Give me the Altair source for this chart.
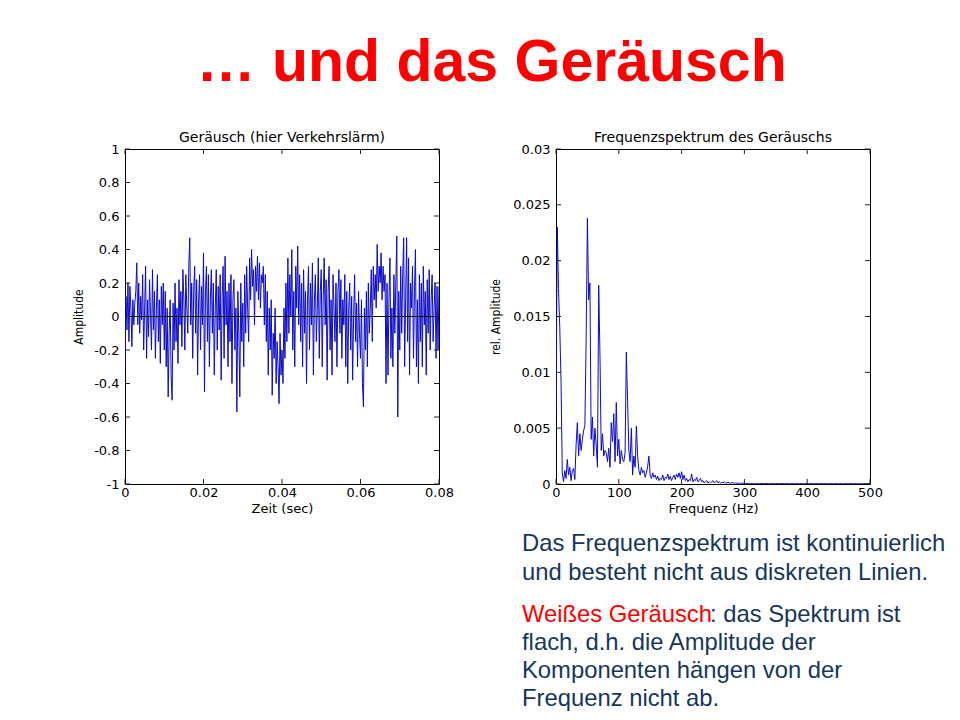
import altair as alt
import pandas as pd

# ---------------- texts ----------------
MAIN_TITLE = "… und das Geräusch"
LEFT_TITLE = "Geräusch (hier Verkehrslärm)"
RIGHT_TITLE = "Frequenzspektrum des Geräuschs"
LEFT_X_TITLE = "Zeit (sec)"
LEFT_Y_TITLE = "Amplitude"
RIGHT_X_TITLE = "Frequenz (Hz)"
RIGHT_Y_TITLE = "rel. Amplitude"
PARA1 = ["Das Frequenzspektrum ist kontinuierlich",
         "und besteht nicht aus diskreten Linien."]
PARA2_RED = "Weißes Geräusch"
PARA2_FIRST = ": das Spektrum ist"
PARA2_REST = ["flach, d.h. die Amplitude der",
              "Komponenten hängen von der",
              "Frequenz nicht ab."]

# ---------------- data ----------------
SAMPLE_STEP = 0.00025  # s
signal = [
    -0.30, 0.12, -0.08, 0.20, -0.15, 0.18, 0.05, -0.18, 0.10, -0.05, 0.08, 0.15, 0.32, -0.05, 0.20, -0.10, 0.12, -0.02, 0.25, -0.20,
    0.05, 0.30, -0.25, 0.10, -0.12, 0.22, 0.02, -0.20, 0.28, -0.08, 0.15, -0.25, 0.05, 0.25, -0.15, 0.10, -0.28, 0.18, -0.05, 0.20,
    -0.20, 0.15, -0.30, 0.05, -0.48, -0.10, 0.10, -0.35, -0.50, 0.08, -0.20, 0.20, -0.15, 0.05, -0.28, 0.22, -0.05, 0.15, -0.18, 0.28,
    0.10, -0.20, 0.25, 0.05, -0.10, 0.30, 0.47, -0.05, 0.20, -0.25, 0.15, 0.30, -0.10, 0.22, -0.35, 0.10, 0.25, -0.20, 0.18, -0.05,
    0.38, -0.45, 0.15, 0.30, -0.15, 0.25, -0.30, 0.10, 0.28, -0.10, 0.20, -0.35, 0.05, 0.28, -0.20, 0.18, -0.08, 0.25, -0.38, 0.12,
    0.30, -0.25, 0.36, -0.05, 0.15, -0.30, 0.20, -0.15, 0.25, -0.40, 0.10, 0.22, -0.20, 0.05, -0.57, 0.15, -0.10, -0.48, 0.20, -0.15,
    0.08, -0.30, 0.25, -0.10, 0.30, 0.05, -0.15, 0.35, 0.10, 0.40, 0.18, 0.28, -0.05, 0.30, 0.15, 0.36, 0.10, 0.32, 0.05, 0.25,
    0.20, 0.30, -0.05, 0.25, -0.15, 0.15, -0.35, 0.05, -0.20, 0.10, -0.47, -0.10, -0.25, 0.05, -0.40, -0.15, -0.30, -0.52, -0.10, -0.35,
    -0.20, -0.40, 0.05, -0.25, 0.20, -0.15, 0.35, -0.10, 0.25, 0.00, 0.40, -0.20, 0.15, -0.30, 0.30, 0.05, 0.42, -0.05, 0.25, -0.15,
    0.20, -0.30, 0.28, -0.10, 0.15, -0.40, 0.10, 0.30, -0.20, 0.20, -0.05, 0.32, -0.35, 0.10, 0.25, -0.15, 0.05, 0.35, -0.25, 0.15,
    0.28, -0.30, 0.12, 0.35, -0.05, 0.22, -0.38, 0.15, 0.30, -0.20, 0.10, -0.35, 0.25, 0.05, -0.15, 0.20, -0.30, 0.15, 0.28, -0.10,
    0.22, -0.25, 0.10, -0.05, 0.25, -0.30, 0.15, -0.40, 0.05, 0.20, -0.20, 0.12, -0.38, 0.00, 0.25, -0.15, 0.08, -0.30, 0.15, -0.10,
    -0.25, 0.10, -0.40, -0.54, 0.05, -0.20, 0.15, -0.30, 0.20, -0.10, 0.05, 0.28, -0.15, 0.30, 0.10, 0.25, 0.05, 0.43, 0.15, 0.30,
    0.20, 0.38, 0.10, 0.30, 0.15, 0.25, -0.40, 0.20, -0.35, 0.10, 0.35, -0.25, 0.05, -0.30, 0.25, -0.10, 0.20, 0.48, -0.60, 0.15,
    -0.20, 0.30, -0.10, 0.25, 0.47, -0.30, 0.10, 0.47, -0.15, 0.35, -0.35, 0.20, 0.05, 0.30, -0.25, 0.15, 0.40, -0.30, 0.10, -0.40,
    0.25, -0.15, 0.20, -0.30, 0.30, -0.05, 0.15, -0.35, 0.22, -0.10, 0.28, -0.20, 0.10, 0.25, -0.15, 0.05, 0.20, -0.25, 0.18, -0.20,
    0.18,
]
ZERO_LEVEL = [0]

FREQ_STEP = 2  # Hz
spectrum = [
    # 0 .. 60 Hz
    0.0062, 0.0230, 0.0175, 0.0140, 0.0093, 0.0010, 0.0002, 0.0012, 0.0005, 0.0022,
    0.0008, 0.0015, 0.0003, 0.0012, 0.0014, 0.0004, 0.0035, 0.0055, 0.0025, 0.0045,
    0.0030, 0.0040, 0.0048, 0.0052, 0.0130, 0.0238, 0.0165, 0.0180, 0.0040, 0.0060,
    0.0025,
    # 62 .. 120 Hz
    0.0050, 0.0035, 0.0015, 0.0178, 0.0115, 0.0030, 0.0045, 0.0025, 0.0030, 0.0028,
    0.0020, 0.0032, 0.0015, 0.0055, 0.0038, 0.0063, 0.0020, 0.0073, 0.0025, 0.0040,
    0.0018, 0.0030, 0.0022, 0.0020, 0.0028, 0.0118, 0.0075, 0.0030, 0.0020, 0.0050,
    # 122 .. 160 Hz
    0.0008, 0.0025, 0.0015, 0.0052, 0.0025, 0.0012, 0.0008, 0.0015, 0.0010, 0.0012,
    0.0006, 0.0010, 0.0016, 0.0025, 0.0008, 0.0005, 0.0010, 0.0006, 0.0008, 0.0004,
    # 162 .. 260 Hz
    0.0007, 0.0003, 0.0005, 0.0004, 0.0008, 0.0003, 0.0006, 0.0005, 0.0009, 0.0004,
    0.0007, 0.0003, 0.0006, 0.0008, 0.0004, 0.0009, 0.0006, 0.0010, 0.0005, 0.0011,
    0.0004, 0.0008, 0.0003, 0.0005, 0.0002, 0.0004, 0.0003, 0.0009, 0.0002, 0.0004,
    0.0003, 0.0006, 0.0002, 0.0003, 0.0005, 0.0002, 0.0003, 0.0001, 0.0002, 0.0003,
    0.0001, 0.0002, 0.0001, 0.0002, 0.0003, 0.0001, 0.0002, 0.0003, 0.0001, 0.0002,
    # 262 .. 300 Hz
    0.00010, 0.00015, 0.00010, 0.00020, 0.00010, 0.00008, 0.00015, 0.00010, 0.00008, 0.00010,
    0.00012, 0.00006, 0.00010, 0.00008, 0.00005, 0.00010, 0.00006, 0.00008, 0.00005, 0.00007,
    # 302 .. 500 Hz
    0.00005, 0.00004, 0.00006, 0.00003, 0.00005, 0.00004, 0.00003, 0.00005, 0.00004, 0.00003,
    0.00004, 0.00003, 0.00005, 0.00004, 0.00003, 0.00004, 0.00005, 0.00003, 0.00004, 0.00003,
    0.00003, 0.00004, 0.00003, 0.00005, 0.00003, 0.00004, 0.00003, 0.00004, 0.00003, 0.00004,
    0.00004, 0.00003, 0.00004, 0.00003, 0.00003, 0.00004, 0.00003, 0.00004, 0.00005, 0.00003,
    0.00003, 0.00004, 0.00003, 0.00003, 0.00004, 0.00003, 0.00004, 0.00003, 0.00003, 0.00004,
    0.00003, 0.00003, 0.00004, 0.00003, 0.00004, 0.00003, 0.00003, 0.00004, 0.00003, 0.00003,
    0.00004, 0.00003, 0.00003, 0.00004, 0.00003, 0.00003, 0.00004, 0.00003, 0.00003, 0.00004,
    0.00003, 0.00003, 0.00004, 0.00003, 0.00003, 0.00003, 0.00004, 0.00003, 0.00003, 0.00003,
    0.00004, 0.00003, 0.00003, 0.00003, 0.00004, 0.00003, 0.00003, 0.00003, 0.00004, 0.00003,
    0.00003, 0.00003, 0.00003, 0.00004, 0.00003, 0.00003, 0.00003, 0.00003, 0.00004, 0.00003,
]

left_x_ticks = [0, 0.02, 0.04, 0.06, 0.08]
left_y_ticks = [-1, -0.8, -0.6, -0.4, -0.2, 0, 0.2, 0.4, 0.6, 0.8, 1]
right_x_ticks = [0, 100, 200, 300, 400, 500]
right_y_ticks = [0, 0.005, 0.01, 0.015, 0.02, 0.025, 0.03]

# ---------------- style ----------------
W, H = 314, 335
TICK = 5
BLUE = "#0b0bcc"
RED = "#ff0000"
NAVY = "#17365d"
AX_FONT = "DejaVu Sans"
NARROW = "Liberation Sans Narrow, DejaVu Sans Condensed, sans-serif"
SLIDE_FONT = "Liberation Sans, Arial, sans-serif"
LABEL_EXPR = "datum.value < 0 ? '-' + format(-datum.value, '') : format(datum.value, '')"

sig_df = pd.DataFrame({"t": [i * SAMPLE_STEP for i in range(len(signal))], "amp": signal})
spec_df = pd.DataFrame({"f": [i * FREQ_STEP for i in range(len(spectrum))], "rel": spectrum})
dummy = pd.DataFrame({"k": [0]})


def x_axis(values, title):
    return alt.Axis(values=values, title=title, labelExpr=LABEL_EXPR, labelPadding=2,
                    titlePadding=3, titleFont=AX_FONT, titleFontSize=13)


def y_axis(values, title, tx):
    return alt.Axis(values=values, title=title, labelExpr=LABEL_EXPR, labelPadding=6,
                    titleX=tx, titleY=H / 2, titleFont=NARROW, titleFontSize=12)


def panel(df, xfield, yfield, xs, ys, xax, yax, xvals, yvals, extra):
    X = alt.X(f"{xfield}:Q", scale=xs, axis=xax)
    Y = alt.Y(f"{yfield}:Q", scale=ys, axis=yax)
    line = alt.Chart(df).mark_line(color=BLUE, strokeWidth=1, clip=True).encode(x=X, y=Y)
    xdf = pd.DataFrame({xfield: xvals})
    ydf = pd.DataFrame({yfield: yvals})
    layers = [line] + extra
    for a, b in [(0, TICK), (W - TICK, W)]:
        layers.append(alt.Chart(ydf).mark_rule(color="#222", strokeWidth=1).encode(
            y=Y, x=alt.value(a), x2=alt.value(b)))
    for a, b in [(H, H - TICK), (0, TICK)]:
        layers.append(alt.Chart(xdf).mark_rule(color="#222", strokeWidth=1).encode(
            x=X, y=alt.value(a), y2=alt.value(b)))
    return layers


# ---------------- left panel ----------------
lxs = alt.Scale(domain=[0, 0.08], nice=False, zero=False)
lys = alt.Scale(domain=[-1, 1], nice=False)
lyax = y_axis(left_y_ticks, LEFT_Y_TITLE, -40)
zero_line = alt.Chart(pd.DataFrame({"amp": ZERO_LEVEL})).mark_rule(color="#111", strokeWidth=1).encode(
    y=alt.Y("amp:Q", scale=lys, axis=lyax)
)
left_layers = panel(sig_df, "t", "amp", lxs, lys, x_axis(left_x_ticks, LEFT_X_TITLE), lyax,
                    left_x_ticks, left_y_ticks, [zero_line])
left = alt.layer(*left_layers).properties(
    width=W, height=H, title=alt.TitleParams(LEFT_TITLE, offset=-2, frame="group"))

# ---------------- right panel ----------------
rxs = alt.Scale(domain=[0, 500], nice=False, zero=False)
rys = alt.Scale(domain=[0, 0.03], nice=False)

txt = dict(font=SLIDE_FONT, fontSize=23.8, align="left", baseline="alphabetic")
para1 = alt.Chart(dummy).mark_text(text=PARA1, color=NAVY, lineHeight=29, **txt).encode(
    x=alt.value(-34), y=alt.value(402))
para2_red = alt.Chart(dummy).mark_text(text=PARA2_RED, color=RED, **txt).encode(
    x=alt.value(-34), y=alt.value(473))
para2_first = alt.Chart(dummy).mark_text(text=PARA2_FIRST, color=NAVY, **txt).encode(
    x=alt.value(154), y=alt.value(473))
para2_rest = alt.Chart(dummy).mark_text(text=PARA2_REST, color=NAVY, lineHeight=28, **txt).encode(
    x=alt.value(-34), y=alt.value(501))

right_layers = panel(spec_df, "f", "rel", rxs, rys, x_axis(right_x_ticks, RIGHT_X_TITLE),
                     y_axis(right_y_ticks, RIGHT_Y_TITLE, -54),
                     right_x_ticks, right_y_ticks, [])
right = alt.layer(*right_layers, para1, para2_red, para2_first, para2_rest).properties(
    width=W, height=H, title=alt.TitleParams(RIGHT_TITLE, offset=-2, frame="group"))

chart = alt.hconcat(left, right, spacing=117, bounds="flush").properties(
    padding={"left": 63, "top": 25, "right": 0, "bottom": 0},
    background="white",
    title=alt.TitleParams(MAIN_TITLE, font=SLIDE_FONT, fontSize=59, fontWeight="bold",
                          color=RED, anchor="middle", offset=38, dx=-17),
).configure_view(
    stroke="#000000", strokeWidth=1
).configure_axis(
    domain=False, ticks=False, grid=False,
    labelFont=AX_FONT, labelFontSize=13, labelColor="black",
    titleColor="black", titleFontWeight="normal",
    labelFlush=False, labelOverlap=False, labelBound=False,
).configure_title(
    font=AX_FONT, fontSize=14, fontWeight="normal", color="black", anchor="middle"
)

chart.save("out.html", embed_options={"renderer": "svg", "actions": False})
